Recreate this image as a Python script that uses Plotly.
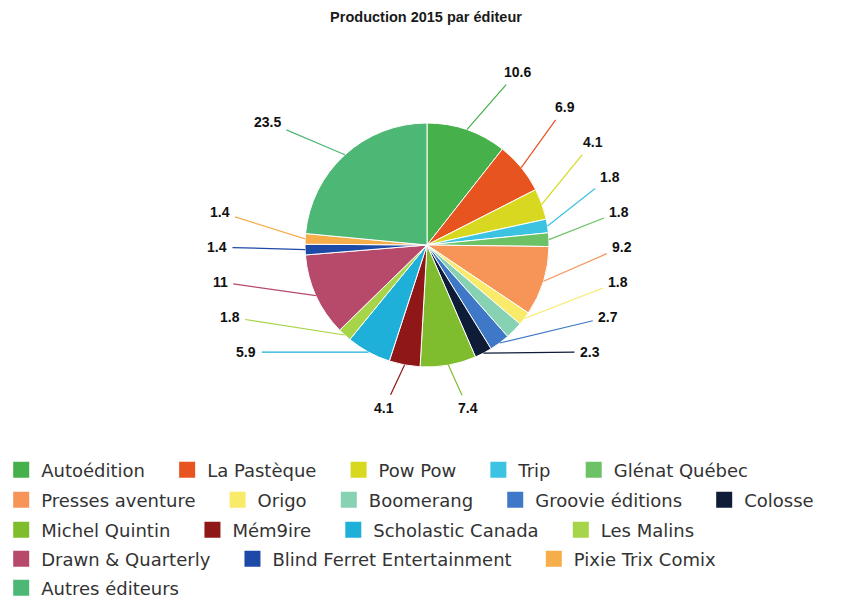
import math
import plotly.graph_objects as go

editeurs = ["Autoédition", "La Pastèque", "Pow Pow", "Trip", "Glénat Québec",
            "Presses aventure", "Origo", "Boomerang", "Groovie éditions", "Colosse",
            "Michel Quintin", "Mém9ire", "Scholastic Canada", "Les Malins",
            "Drawn & Quarterly", "Blind Ferret Entertainment", "Pixie Trix Comix",
            "Autres éditeurs"]
production = [10.6, 6.9, 4.1, 1.8, 1.8, 9.2, 1.8, 2.3, 2.7, 2.3,
              7.4, 4.1, 5.9, 1.8, 11, 1.4, 1.4, 23.5]
etiquettes = ["10.6", "6.9", "4.1", "1.8", "1.8", "9.2", "1.8", "", "2.7", "2.3",
              "7.4", "4.1", "5.9", "1.8", "11", "1.4", "1.4", "23.5"]
couleurs = ["#46b04a", "#e8541f", "#d8d820", "#3cc3e2", "#6cc264",
            "#f79457", "#f9ea6a", "#86d2b3", "#3f78c6", "#0f1c38",
            "#7fbd2f", "#8f1717", "#1fb0da", "#a6d549", "#b74a6b",
            "#1d4aa6", "#f5ae4a", "#4db775"]
# legend rows (number of entries per row)
legend_rows = [5, 5, 4, 3, 1]

OFF = 8                    # page margin around the figure
W, H = 848 - OFF, 597 - OFF
MB = 150                   # bottom margin holding the legend
HP = H - MB                # plot-area height
cx, cy, R = 427 - OFF, 245 - OFF, 122  # pie centre / radius in pixels
GAP = 35                   # vertical spacing of stacked side labels
RL_R, RL_L = 195, 210      # label ring radii, right / left
PAD = "\u00a0\u00a0\u00a0"  # extra spacing after legend entries

fig = go.Figure()
fig.add_trace(go.Pie(
    labels=editeurs, values=production, sort=False, direction="clockwise",
    rotation=0, textinfo="none", showlegend=False,
    marker=dict(colors=couleurs, line=dict(color="white", width=1)),
    domain=dict(x=[(cx - R) / W, (cx + R) / W], y=[1 - (cy + R) / HP, 1 - (cy - R) / HP]),
    hoverinfo="label+value",
))

# legend entries, one legend per row (flow layout)
k = 0
for r, n in enumerate(legend_rows):
    lg = "legend" if r == 0 else "legend%d" % (r + 1)
    for j in range(n):
        nm = editeurs[k] + (PAD if j < n - 1 else "")
        fig.add_trace(go.Scatter(x=[None], y=[None], mode="markers", name=nm,
                                 legend=lg, hoverinfo="skip",
                                 marker=dict(symbol="square", size=16, color=couleurs[k])))
        k += 1

# value labels with leader lines derived from slice angles
total = sum(production)
cum = 0
mids = []
for v in production:
    mids.append((cum + v / 2) / total * 2 * math.pi)
    cum += v

rad = math.radians
right = [i for i, m in enumerate(mids) if etiquettes[i] and m < rad(160)]
bottom = [i for i, m in enumerate(mids) if etiquettes[i] and rad(160) <= m < rad(200)]
left = [i for i, m in enumerate(mids) if etiquettes[i] and rad(200) <= m < rad(300)]
top_left = [i for i, m in enumerate(mids) if etiquettes[i] and m >= rad(300)]

pos = {}
y0 = cy - 1.5 * R * math.cos(mids[right[0]])
for j, i in enumerate(right):
    y = y0 + j * GAP
    dy = y - cy
    pos[i] = (cx + math.sqrt(max(RL_R ** 2 - dy ** 2, 0)), y)
yb = cy - R * math.cos(mids[left[0]])
for j, i in enumerate(left):
    y = yb - j * GAP
    dy = y - cy
    pos[i] = (cx - math.sqrt(max(RL_L ** 2 - dy ** 2, 0)), y)
for i in bottom:
    a = mids[i] + (0.07 if mids[i] > math.pi else -0.07)
    pos[i] = (cx + 1.38 * R * math.sin(a), cy - 1.38 * R * math.cos(a))
for i in top_left:
    a = mids[i] - 0.175
    pos[i] = (cx + 1.65 * R * math.sin(a), cy - 1.65 * R * math.cos(a))

for i, (lx, ly) in pos.items():
    m = mids[i]
    ex, ey = cx + R * math.sin(m), cy - R * math.cos(m)
    fig.add_annotation(x=ex / W, y=1 - ey / HP, xref="paper", yref="paper",
                       text="<b>%s</b>" % etiquettes[i], showarrow=True, arrowhead=0,
                       arrowwidth=1.2, arrowcolor=couleurs[i], ax=lx - ex, ay=ly - ey,
                       standoff=0, startstandoff=4,
                       font=dict(family="Liberation Sans", size=14, color="#111"))

legend_style = dict(orientation="h", x=-6.8 / W, xanchor="left", yanchor="middle",
                    font=dict(family="DejaVu Sans", size=18, color="#333"),
                    itemsizing="trace", bgcolor="rgba(0,0,0,0)")
row_y = [470, 500, 530, 559, 588]
layout_legends = {}
for r in range(len(legend_rows)):
    key = "legend" if r == 0 else "legend%d" % (r + 1)
    layout_legends[key] = dict(legend_style, y=1 - (row_y[r] - OFF) / HP)

fig.update_layout(
    width=W, height=H, margin=dict(l=0, r=0, t=0, b=MB, autoexpand=False),
    paper_bgcolor="white", plot_bgcolor="white",
    title=dict(text="<b>Production 2015 par éditeur</b>", x=(426 - OFF) / W, xanchor="center",
               y=1 - (17 - OFF) / H, yanchor="middle",
               font=dict(family="Liberation Sans", size=14.5, color="#1a1a1a")),
    xaxis=dict(visible=False), yaxis=dict(visible=False),
    **layout_legends,
)

fig.write_html("out.html")
